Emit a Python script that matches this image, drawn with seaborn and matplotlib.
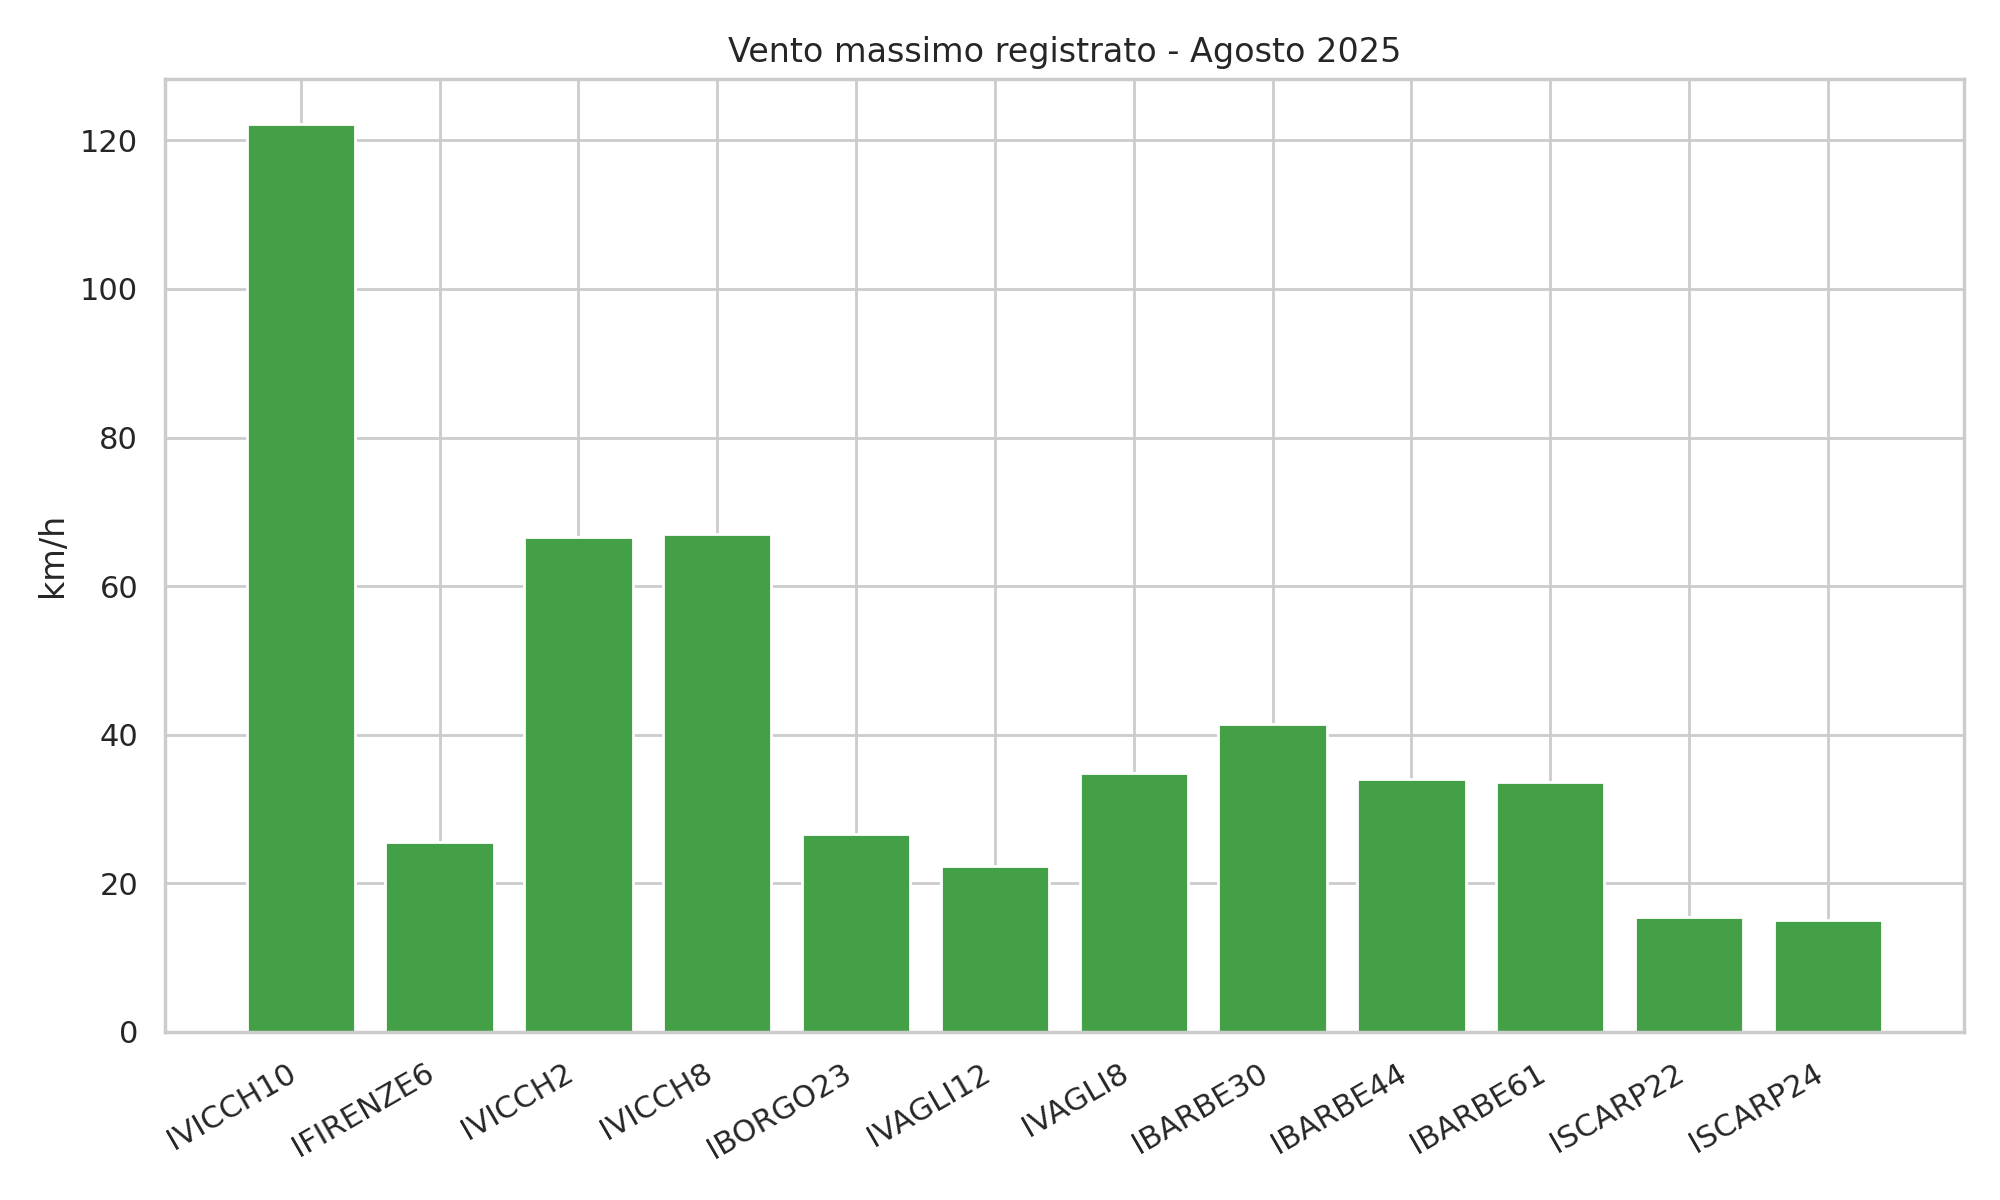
import seaborn as sns
import matplotlib.pyplot as plt
import pandas as pd

sns.set_theme(style="whitegrid")

stations = ["IVICCH10", "IFIRENZE6", "IVICCH2", "IVICCH8", "IBORGO23", "IVAGLI12",
            "IVAGLI8", "IBARBE30", "IBARBE44", "IBARBE61", "ISCARP22", "ISCARP24"]
max_wind = [122.2, 25.5, 66.6, 67.0, 26.7, 22.4, 34.9, 41.5, 34.1, 33.6, 15.5, 15.1]

df = pd.DataFrame({"station": stations, "wind": max_wind})

fig, ax = plt.subplots(figsize=(10, 6), dpi=200)
sns.barplot(data=df, x="station", y="wind", color="#43a047", saturation=1, width=0.78, ax=ax)
ax.set_title("Vento massimo registrato - Agosto 2025")
ax.set_xlabel("")
ax.set_ylabel("km/h")
ax.set_xlim(-0.98, 11.98)
ax.grid(True, axis="both")
plt.setp(ax.get_xticklabels(), rotation=30, ha="right")
fig.tight_layout()
fig.savefig("out.png")
